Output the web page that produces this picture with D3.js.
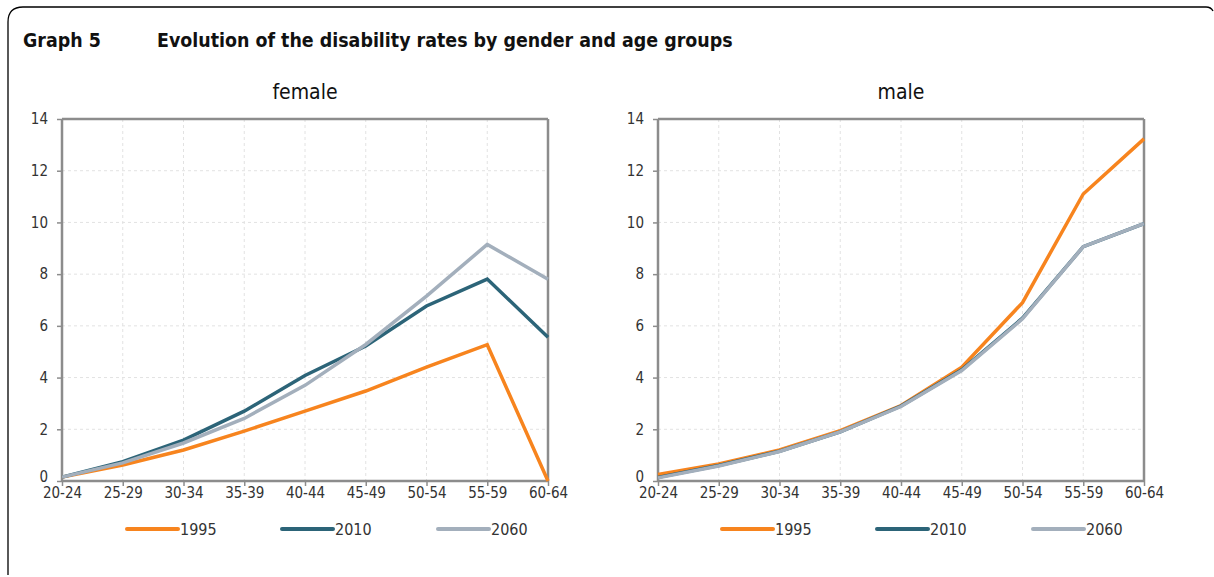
<!DOCTYPE html>
<html><head><meta charset="utf-8">
<script src="https://cdn.jsdelivr.net/npm/d3@7"></script>
<style>
body{margin:0;background:#fff;}
svg text{font-family:"DejaVu Sans Condensed","DejaVu Sans",sans-serif;fill:#333;}
</style></head>
<body><svg id="c" width="1214" height="577"></svg>
<script>
const categories = ["20-24","25-29","30-34","35-39","40-44","45-49","50-54","55-59","60-64"];
const seriesNames = ["1995","2010","2060"];
const female1995 = [0.15,0.62,1.2,1.93,2.7,3.48,4.4,5.27,0];
const female2010 = [0.15,0.75,1.58,2.7,4.08,5.22,6.77,7.81,5.56];
const female2060 = [0.15,0.7,1.47,2.42,3.7,5.28,7.15,9.15,7.8];
const male1995 = [0.25,0.66,1.2,1.95,2.92,4.4,6.9,11.1,13.23];
const male2010 = [0.14,0.6,1.15,1.9,2.9,4.3,6.3,9.06,9.95];
const male2060 = [0.12,0.58,1.14,1.9,2.88,4.27,6.27,9.06,9.95];
const yTicks = [0,2,4,6,8,10,12,14];
const panelTitles = ["female","male"];
const colors = ["#F7841E","#2C6478","#A3AFBC"];

const svg = d3.select("#c");
// frame
svg.append("path")
  .attr("d","M8,575 L8,22 Q8,7 23,7 L1206,7 Q1211,7 1213,11")
  .attr("fill","none").attr("stroke","#000").attr("stroke-width",1.3);

svg.append("text").attr("x",23).attr("y",47).attr("font-size",19.4).attr("font-weight","bold")
  .style("fill","#111").text("Graph 5");
svg.append("text").attr("x",157).attr("y",47).attr("font-size",19.4).attr("font-weight","bold")
  .style("fill","#111").text("Evolution of the disability rates by gender and age groups");

const panels = [
  {left:62, right:548, data:[female1995,female2010,female2060], title:panelTitles[0], legX:[127,282,438]},
  {left:658, right:1144, data:[male1995,male2010,male2060], title:panelTitles[1], legX:[722,877,1033]}
];
const plotTop=119, plotBottom=481;
const y = d3.scaleLinear().domain([0,14]).range([plotBottom,plotTop]);

panels.forEach(p=>{
  const x = d3.scalePoint().domain(categories).range([p.left,p.right]);
  const g = svg.append("g");
  // grid
  g.selectAll(".hg").data(yTicks.slice(1,-1)).enter().append("line")
    .attr("x1",p.left).attr("x2",p.right).attr("y1",d=>y(d)).attr("y2",d=>y(d))
    .attr("stroke","#e2e2e2").attr("stroke-dasharray","3,3");
  g.selectAll(".vg").data(categories.slice(1,-1)).enter().append("line")
    .attr("x1",d=>x(d)).attr("x2",d=>x(d)).attr("y1",plotTop).attr("y2",plotBottom)
    .attr("stroke","#e2e2e2").attr("stroke-dasharray","3,3");
  // frame top/right
  g.append("line").attr("x1",p.left).attr("x2",p.right).attr("y1",plotTop).attr("y2",plotTop).attr("stroke","#8c8c8c").attr("stroke-width",2.5);
  g.append("line").attr("x1",p.right).attr("x2",p.right).attr("y1",plotTop).attr("y2",plotBottom).attr("stroke","#8c8c8c").attr("stroke-width",2.5);
  // axes
  const ya = d3.axisLeft(y).tickValues(yTicks).tickSize(5).tickPadding(9);
  const yg = g.append("g").attr("transform",`translate(${p.left},0)`).call(ya);
  const xa = d3.axisBottom(x).tickSize(5).tickPadding(-1);
  const xg = g.append("g").attr("transform",`translate(0,${plotBottom})`).call(xa);
  [yg,xg].forEach(a=>{
    a.select(".domain").attr("stroke","#8c8c8c").attr("stroke-width",2.5);
    a.selectAll(".tick line").attr("stroke","#8c8c8c").attr("stroke-width",1.5);
    a.selectAll("text").attr("font-size",15).style("fill","#333").style("font-family","DejaVu Sans Condensed");
  });
  xg.select(".domain").attr("d",`M${p.left},0H${p.right}`);
  yg.select(".domain").attr("d",`M0,${plotTop}V${plotBottom}`);
  xg.selectAll(".tick text").attr("dy","0.85em");
  yg.selectAll(".tick text").filter(d=>d===0).attr("dy","0em");
  // lines
  const line = d3.line().x((d,i)=>x(categories[i])).y(d=>y(d));
  p.data.forEach((s,k)=>{
    g.append("path").datum(s).attr("d",line).attr("fill","none")
      .attr("stroke",colors[k]).attr("stroke-width",3.5).attr("stroke-linejoin","miter");
  });
  // title
  g.append("text").attr("x",(p.left+p.right)/2).attr("y",99).attr("text-anchor","middle")
    .attr("font-size",21).style("fill","#111").text(p.title);
  // legend
  seriesNames.forEach((n,k)=>{
    g.append("line").attr("x1",p.legX[k]).attr("x2",p.legX[k]+51).attr("y1",529).attr("y2",529)
      .attr("stroke",colors[k]).attr("stroke-width",4).attr("stroke-linecap","round");
    g.append("text").attr("x",p.legX[k]+53).attr("y",535).attr("font-size",16).style("fill","#333").text(n);
  });
});
</script></body></html>
